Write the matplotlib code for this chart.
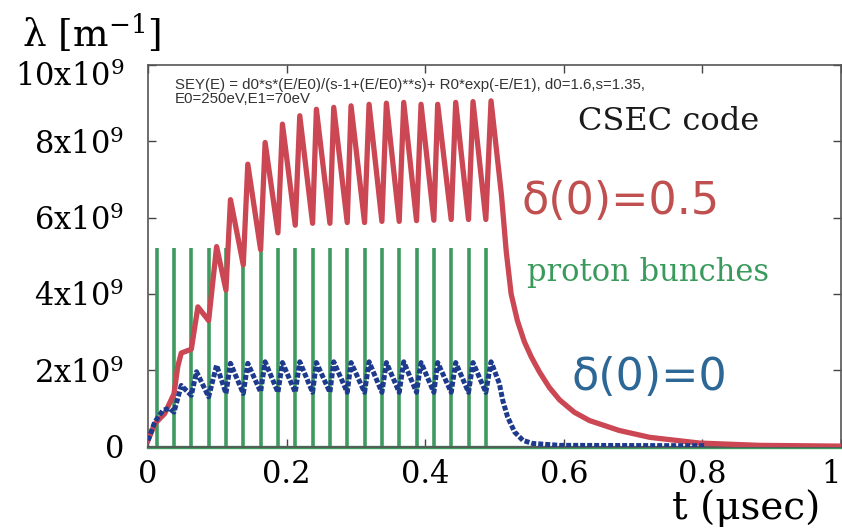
import matplotlib
matplotlib.use("Agg")
import matplotlib.pyplot as plt
import matplotlib.transforms as mtransforms

plt.rcParams['mathtext.fontset'] = 'dejavuserif'

# bunch times (usec) and spike height (x1e9 m^-1)
bunch_t = [0.0125, 0.0375, 0.0625, 0.0875, 0.1125, 0.1375, 0.1625, 0.1875, 0.2125, 0.2375,
           0.2625, 0.2875, 0.3125, 0.3375, 0.3625, 0.3875, 0.4125, 0.4375, 0.4625, 0.4875]
bunch_h = 5.2

# delta(0)=0.5 curve, x1e9 m^-1
red_t = [0.0, 0.010, 0.024, 0.0375, 0.043, 0.048, 0.0625, 0.072,
         0.0875, 0.099, 0.1125, 0.119, 0.1375, 0.144, 0.1625, 0.169,
         0.1875, 0.194, 0.2125, 0.219, 0.2375, 0.243, 0.2625, 0.268,
         0.2875, 0.293, 0.3125, 0.319, 0.3375, 0.344, 0.3625, 0.369,
         0.3875, 0.394, 0.4125, 0.418, 0.4375, 0.444, 0.4625, 0.469,
         0.4875, 0.495, 0.510, 0.517, 0.524, 0.533, 0.543, 0.553, 0.565,
         0.579, 0.594, 0.615, 0.637, 0.680, 0.724, 0.796, 0.882, 1.0]
red_v = [0.16, 0.6, 0.86, 1.38, 2.1, 2.45, 2.55, 3.66,
         3.3, 5.24, 4.1, 6.47, 4.76, 7.4, 5.16, 7.97,
         5.6, 8.45, 5.8, 8.67, 5.85, 8.84, 5.85, 8.89,
         5.87, 8.93, 5.87, 8.97, 5.9, 9.0, 5.9, 9.02,
         5.92, 8.97, 5.93, 8.97, 5.95, 9.02, 5.95, 9.04,
         5.95, 9.06, 6.6, 5.1, 4.0, 3.3, 2.75, 2.35, 1.95,
         1.55, 1.22, 0.9, 0.68, 0.42, 0.24, 0.09, 0.03, 0.01]

# delta(0)=0 curve
blue_t = [0.0, 0.0097, 0.0216, 0.031, 0.0375, 0.048, 0.0625, 0.070,
          0.0875, 0.099, 0.1125, 0.119, 0.1375, 0.144, 0.1625, 0.169,
          0.1875, 0.194, 0.2125, 0.219, 0.2375, 0.243, 0.2625, 0.268,
          0.2875, 0.293, 0.3125, 0.319, 0.3375, 0.344, 0.3625, 0.369,
          0.3875, 0.394, 0.4125, 0.418, 0.4375, 0.444, 0.4625, 0.469,
          0.4875, 0.495, 0.507, 0.512, 0.519, 0.529, 0.541, 0.555,
          0.594, 0.803]
blue_v = [0.16, 0.64, 0.95, 1.0, 0.9, 1.6, 1.34, 1.96,
          1.3, 2.13, 1.39, 2.18, 1.39, 2.18, 1.43, 2.22,
          1.42, 2.2, 1.42, 2.22, 1.42, 2.2, 1.42, 2.22,
          1.42, 2.2, 1.42, 2.22, 1.42, 2.2, 1.42, 2.22,
          1.42, 2.2, 1.42, 2.2, 1.42, 2.2, 1.42, 2.2,
          1.42, 2.22, 1.65, 1.2, 0.77, 0.38, 0.16, 0.08,
          0.03, 0.02]

xticks = [0, 0.2, 0.4, 0.6, 0.8, 1]
xlabels = ['0', '0.2', '0.4', '0.6', '0.8', '1']
yticks = [0, 2, 4, 6, 8, 10]
ylabels = ['0', '2x10$^9$', '4x10$^9$', '6x10$^9$', '8x10$^9$', '10x10$^9$']

W, H = 842, 532
fig = plt.figure(figsize=(W / 100, H / 100), dpi=100)
ax = fig.add_axes([148 / W, 1 - 446.5 / H, (841 - 148) / W, (446.5 - 65) / H])

green = '#3f9a5f'
ax.vlines(bunch_t, 0, bunch_h, color=green, lw=2.6, zorder=2)
ax.plot([0, 1], [0, 0], color=green, lw=2.4, clip_on=False, zorder=2)
ax.plot(red_t, red_v, color='#cb4753', lw=3.8, solid_joinstyle='round', zorder=3)
ax.plot(blue_t, blue_v, color='#1d3a8c', lw=3.6, linestyle=(0, (1.0, 0.4)), zorder=4)

ax.set_xlim(0, 1)
ax.set_ylim(0, 10)
ax.set_xticks(xticks)
ax.set_xticklabels(xlabels, family='DejaVu Serif', fontsize=22)
ax.set_yticks(yticks)
ax.set_yticklabels(ylabels, family='DejaVu Serif', fontsize=22)
ax.tick_params(direction='in', top=True, right=True, length=6, width=1, color='#444444')
ax.tick_params(axis='x', pad=9)
ax.tick_params(axis='y', pad=17)
for s in ax.spines.values():
    s.set_color('#555555')
    s.set_linewidth(1.2)

# the "1" sits right at the figure edge
ax.get_xticklabels()[-1].set_horizontalalignment('right')

# top y label sits a little below its tick in the original
top_lab = ax.get_yticklabels()[-1]
top_lab.set_transform(top_lab.get_transform() +
                      mtransforms.ScaledTranslation(0, -9 / 100, fig.dpi_scale_trans))

fig.text(22 / W, 1 - 33 / H, 'λ [$\\mathregular{m^{-1}}$]', family='DejaVu Serif',
         fontsize=27, ha='left', va='center')
fig.text(820 / W, 1 - 508 / H, 't (μsec)', family='DejaVu Serif',
         fontsize=28, ha='right', va='center')

fig.text(175 / W, 1 - 85 / H, 'SEY(E) = d0*s*(E/E0)/(s-1+(E/E0)**s)+ R0*exp(-E/E1), d0=1.6,s=1.35,',
         family='Liberation Sans', fontsize=10.8, color='#333333', ha='left', va='center')
fig.text(175 / W, 1 - 99 / H, 'E0=250eV,E1=70eV',
         family='Liberation Sans', fontsize=10.8, color='#333333', ha='left', va='center')

fig.text(578 / W, 1 - 122 / H, 'CSEC code', family='DejaVu Serif', fontsize=23,
         color='#1a1a1a', ha='left', va='center')
fig.text(522 / W, 1 - 202 / H, 'δ(0)=0.5', family='DejaVu Sans', fontsize=32,
         color='#c0504f', ha='left', va='center')
fig.text(527 / W, 1 - 272 / H, 'proton bunches', family='DejaVu Serif', fontsize=22,
         color='#3a9a5c', ha='left', va='center')
fig.text(572 / W, 1 - 378 / H, 'δ(0)=0', family='DejaVu Sans', fontsize=32,
         color='#2c6796', ha='left', va='center')

fig.savefig('out.png', dpi=100)
